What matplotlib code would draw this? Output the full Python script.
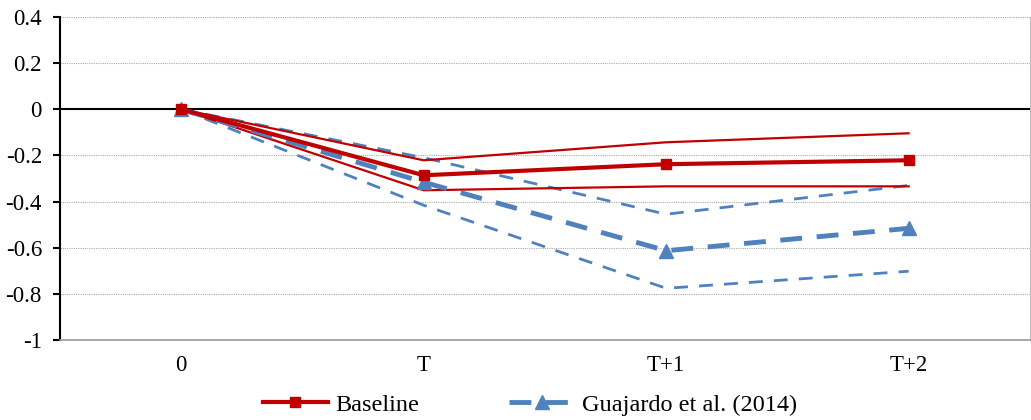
import matplotlib
matplotlib.use("Agg")
from matplotlib import pyplot as plt
from matplotlib.lines import Line2D
import numpy as np

plt.rcParams['font.family'] = ['Liberation Serif', 'DejaVu Serif']

periods = ['0', 'T', 'T+1', 'T+2']
baseline = [0, -0.286, -0.238, -0.221]
baseline_hi = [0, -0.221, -0.143, -0.104]
baseline_lo = [0, -0.351, -0.334, -0.334]
guaj = [0, -0.316, -0.613, -0.516]
guaj_hi = [0, -0.21, -0.455, -0.33]
guaj_lo = [0, -0.416, -0.776, -0.702]

red = '#C00000'
blue = '#4F81BD'
x = np.arange(len(periods))

fig = plt.figure(figsize=(10.31, 4.2), dpi=100, facecolor='white')
ax = fig.add_axes([0.0582, 0.1905, 0.9407, 0.769])

# dotted gridlines + solid zero line
for yv in [0.4, 0.2, -0.2, -0.4, -0.6, -0.8]:
    ax.axhline(yv, color='#aaaaaa', lw=0.8, ls=(0, (1, 1)), zorder=0)
ax.axhline(0, color='black', lw=1.5, zorder=1)

ax.plot(x, baseline_hi, color=red, lw=1.6, zorder=3)
ax.plot(x, baseline_lo, color=red, lw=1.6, zorder=3)
ax.plot(x, baseline, color=red, lw=3, marker='s', ms=7.5, zorder=4)
ax.plot(x, guaj_hi, color=blue, lw=2, ls=(0, (5, 4)), zorder=2)
ax.plot(x, guaj_lo, color=blue, lw=2, ls=(0, (5, 4)), zorder=2)
ax.plot(x, guaj, color=blue, lw=3.5, ls=(0, (4.5, 3)), marker='^', ms=10, zorder=3)

ax.set_xlim(-0.5, 3.5)
ax.set_ylim(-1, 0.4)
ax.set_yticks([0.4, 0.2, 0, -0.2, -0.4, -0.6, -0.8, -1])
ax.set_yticklabels(['0.4', '0.2', '0', '-0.2', '-0.4', '-0.6', '-0.8', '-1'])
ax.set_xticks(x)
ax.set_xticklabels(periods)
ax.tick_params(axis='x', length=0, pad=11, labelsize=16.5)
ax.tick_params(axis='y', length=5, width=1.5, direction='out', pad=8, labelsize=16.5)

ax.spines['left'].set_color('black')
ax.spines['left'].set_linewidth(1.5)
ax.spines['bottom'].set_color('#999999')
ax.spines['bottom'].set_linewidth(1.2)
ax.spines['top'].set_visible(False)
ax.spines['right'].set_color('#bbbbbb')
ax.spines['right'].set_linewidth(0.8)

handles = [
    Line2D([], [], color=red, lw=3, marker='s', ms=7.5),
    Line2D([], [], color=blue, lw=3.5, ls=(0, (4.5, 3)), marker='^', ms=10),
]
fig.legend(handles, ['Baseline', 'Guajardo et al. (2014)'], loc='center',
           bbox_to_anchor=(0.514, 0.036), ncol=2, frameon=False,
           fontsize=17.5, handlelength=2.7, columnspacing=3.7, handletextpad=0.3)

plt.savefig('out.png', dpi=100)
